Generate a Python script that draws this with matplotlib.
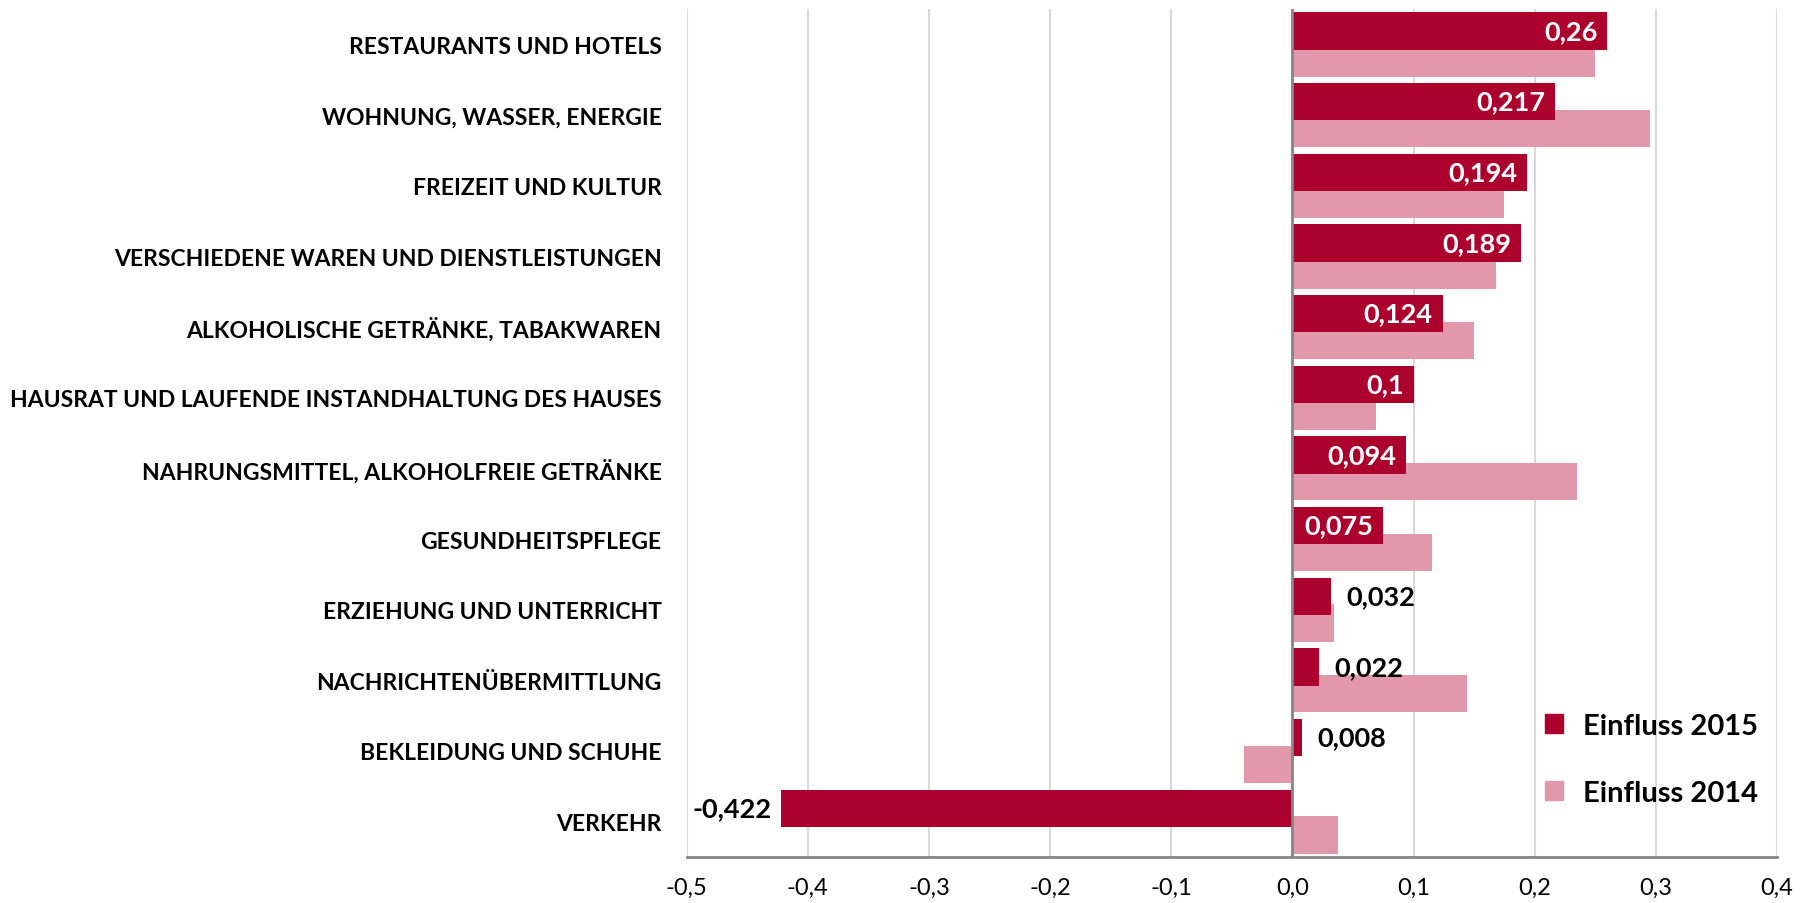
import matplotlib
matplotlib.use("Agg")
import matplotlib.pyplot as plt
from matplotlib.patches import Patch
import numpy as np

categories = [
    "RESTAURANTS UND HOTELS",
    "WOHNUNG, WASSER, ENERGIE",
    "FREIZEIT UND KULTUR",
    "VERSCHIEDENE WAREN UND DIENSTLEISTUNGEN",
    "ALKOHOLISCHE GETRÄNKE, TABAKWAREN",
    "HAUSRAT UND LAUFENDE INSTANDHALTUNG DES HAUSES",
    "NAHRUNGSMITTEL, ALKOHOLFREIE GETRÄNKE",
    "GESUNDHEITSPFLEGE",
    "ERZIEHUNG UND UNTERRICHT",
    "NACHRICHTENÜBERMITTLUNG",
    "BEKLEIDUNG UND SCHUHE",
    "VERKEHR",
]
einfluss_2015 = [0.26, 0.217, 0.194, 0.189, 0.124, 0.1, 0.094, 0.075, 0.032, 0.022, 0.008, -0.422]
einfluss_2014 = [0.25, 0.295, 0.175, 0.168, 0.150, 0.069, 0.235, 0.115, 0.034, 0.144, -0.040, 0.038]
series_names = ["Einfluss 2015", "Einfluss 2014"]
x_ticks = [-0.5, -0.4, -0.3, -0.2, -0.1, 0.0, 0.1, 0.2, 0.3, 0.4]
x_tick_labels = ["-0,5", "-0,4", "-0,3", "-0,2", "-0,1", "0,0", "0,1", "0,2", "0,3", "0,4"]
inside_label_count = 8  # first 8 labels are drawn inside the bar

C2015 = "#AC002D"
C2014 = "#E098AA"
FONT = ["Lato", "DejaVu Sans"]
plt.rcParams["font.family"] = FONT

fig = plt.figure(figsize=(18.07, 9.04), dpi=100)
ax = fig.add_axes([0.380, 0.0509, 0.6034, 0.9380])

y = np.arange(len(categories))
h = 0.53
off = 0.19
ax.barh(y + off, einfluss_2014, height=h, color=C2014, zorder=2, label=series_names[1])
ax.barh(y - off, einfluss_2015, height=h, color=C2015, zorder=3, label=series_names[0])

ax.set_xlim(-0.5, 0.4)
ax.set_ylim(len(categories) - 0.5, -0.5)
ax.set_xticks(x_ticks)
ax.set_xticklabels(x_tick_labels, fontsize=17, color="#000000")
ax.set_yticks(y)
ax.set_yticklabels(categories, fontsize=16.5, fontweight="bold")
ax.tick_params(axis="both", length=0)
ax.tick_params(axis="x", pad=14)
ax.tick_params(axis="y", pad=18)

ax.grid(axis="x", color="#D9D9D9", linewidth=1.5, zorder=0)
ax.set_axisbelow(True)
for s in ["top", "right", "left"]:
    ax.spines[s].set_visible(False)
ax.spines["bottom"].set_color("#868686")
ax.spines["bottom"].set_linewidth(2)
ax.axvline(0, color="#868686", linewidth=2, zorder=4)

for i, v in enumerate(einfluss_2015):
    txt = f"{v:g}".replace(".", ",")
    if i < inside_label_count:
        ax.annotate(txt, (v, y[i] - off), xytext=(-7, 0),
                    textcoords="offset points", ha="right", va="center",
                    color="white", fontsize=19.5, fontweight="bold", zorder=5)
    elif v >= 0:
        ax.annotate(txt, (v, y[i] - off), xytext=(11, 0),
                    textcoords="offset points", ha="left", va="center",
                    color="black", fontsize=19.5, fontweight="bold", zorder=5)
    else:
        ax.annotate(txt, (v, y[i] - off), xytext=(-7, 0),
                    textcoords="offset points", ha="right", va="center",
                    color="black", fontsize=19.5, fontweight="bold", zorder=5)

handles = [Patch(color=C2015, label=series_names[0]), Patch(color=C2014, label=series_names[1])]
ax.legend(handles=handles, loc="center left", bbox_to_anchor=(0.763, 0.115),
          frameon=False, prop={"size": 21, "weight": "bold"},
          handlelength=0.62, handleheight=0.62, handletextpad=0.7, labelspacing=1.4)

fig.savefig("out.png", dpi=100)
